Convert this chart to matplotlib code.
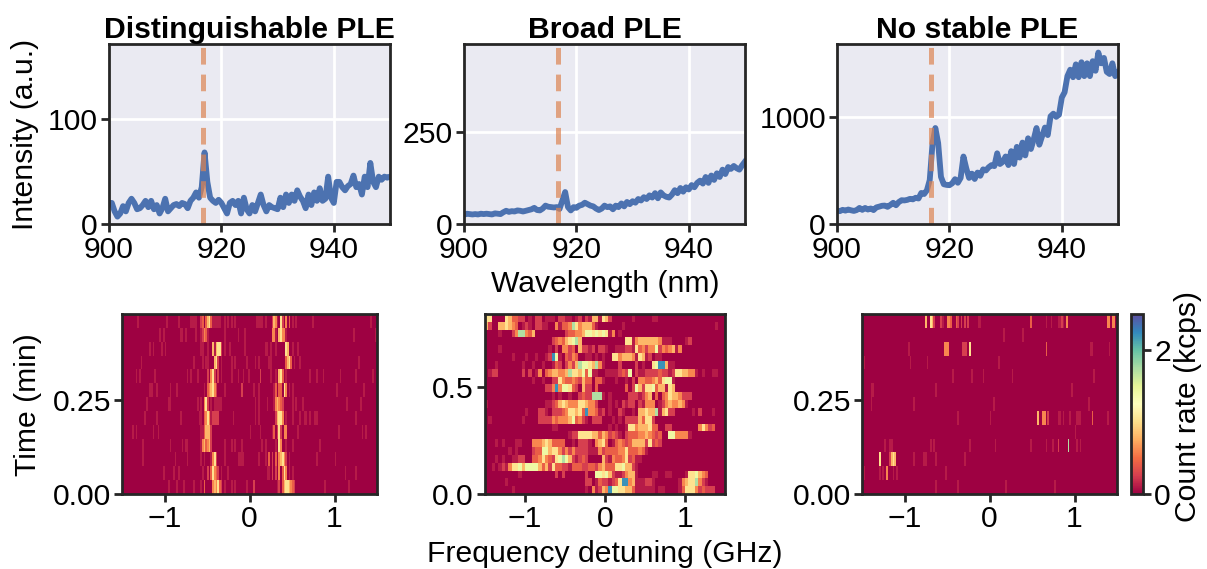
"""
Photoluminescence spectra and PLE scans for three emitter classes.
"""

import matplotlib

matplotlib.use("Agg")
import matplotlib.pyplot as plt
import numpy as np

FIG_W, FIG_H = 1207, 569

plt.rcParams["font.family"] = ["Liberation Sans", "DejaVu Sans"]
plt.rcParams["font.size"] = 21.7
plt.rcParams["axes.linewidth"] = 2
plt.rcParams["axes.edgecolor"] = "#262626"
plt.rcParams["xtick.color"] = "#262626"
plt.rcParams["ytick.color"] = "#262626"
plt.rcParams["xtick.labelcolor"] = "black"
plt.rcParams["ytick.labelcolor"] = "black"

TITLES = ["Distinguishable PLE", "Broad PLE", "No stable PLE"]

# spectra, one value every 0.5 nm from 900 to 950 nm
SPECTRUM_A = [
    20, 20, 12, 7, 10, 17, 12, 20, 24, 20, 14, 15, 18, 22, 16, 22, 14, 18, 10, 15,
    24, 12, 15, 18, 19, 17, 20, 19, 15, 22, 25, 30, 25, 35, 68, 40, 25, 22, 20, 23,
    20, 15, 10, 20, 22, 18, 22, 10, 25, 14, 10, 18, 12, 20, 28, 18, 12, 18, 16, 15,
    14, 25, 16, 28, 20, 28, 22, 32, 26, 22, 15, 28, 18, 30, 22, 34, 22, 24, 45, 25,
    20, 40, 40, 35, 32, 36, 38, 46, 35, 38, 28, 45, 35, 58, 40, 35, 45, 42, 45, 44, 45,
]
SPECTRUM_B = [
    25, 28, 27, 26, 27, 26, 28, 27, 28, 27, 26, 29, 28, 27, 32, 36, 33, 35, 34, 37,
    36, 34, 36, 38, 40, 44, 38, 37, 42, 50, 47, 46, 45, 46, 41, 64, 87, 46, 37, 46,
    44, 50, 52, 58, 54, 50, 48, 42, 38, 42, 50, 46, 48, 40, 50, 46, 56, 48, 60, 54,
    62, 58, 68, 64, 73, 68, 78, 72, 84, 70, 86, 78, 74, 72, 80, 92, 84, 98, 88, 100,
    94, 106, 100, 112, 118, 110, 128, 112, 132, 120, 138, 128, 148, 136, 155, 150,
    158, 152, 148, 160, 170,
]
SPECTRUM_C = [
    125, 120, 132, 125, 135, 128, 122, 130, 150, 132,
    150, 135, 145, 130, 155, 162, 170, 172, 160, 178,
    198, 175, 205, 222, 220, 225, 235, 230, 245, 238,
    290, 280, 315, 410, 755, 896, 755, 440, 371, 365,
    362, 380, 418, 385, 430, 630, 520, 430, 470, 420,
    480, 450, 510, 500, 530, 550, 540, 660, 560, 580,
    630, 550, 680, 560, 720, 620, 760, 640, 800, 700,
    790, 896, 740, 820, 900, 830, 1005, 1030, 1000, 1020,
    1180, 1230, 1380, 1440, 1370, 1490, 1370, 1510, 1380, 1500,
    1380, 1520, 1430, 1600, 1500, 1550, 1420, 1400, 1500, 1380, 1415,
]
SPECTRA = [SPECTRUM_A, SPECTRUM_B, SPECTRUM_C]
WAVELENGTH = np.linspace(900, 950, 101)
MARKER_NM = 916.8
SPECTRUM_YLIMS = [171, 490, 1680]
SPECTRUM_YTICKS = [[0, 100], [0, 250], [0, 1000]]

# count rate levels used by the scan rows below (kcps)
LEVELS = [0, 0.11, 0.26, 0.42, 0.6, 0.8, 1.02, 1.42, 1.72, 2.2]

# scans, top row first: (first bin, one level digit per bin)
SCAN_A = [
    [(9, "1"), (26, "1"), (33, "1"), (40, "1111"), (46, "2"), (47, "3"), (49, "3"), (50, "56"), (52, "3"), (53, "11111"), (60, "1"), (62, "1"), (64, "1"), (66, "1"), (79, "1111"), (84, "1"), (88, "2"), (89, "5"), (90, "41"), (93, "6"), (94, "2"), (96, "4"), (98, "3"), (100, "1"), (102, "1"), (112, "1"), (146, "1")],
    [(22, "1"), (24, "1"), (34, "11"), (37, "1"), (43, "1"), (46, "12"), (48, "43"), (50, "1"), (60, "1"), (68, "1"), (72, "1"), (88, "44"), (90, "1"), (92, "56"), (94, "44"), (96, "1"), (136, "1"), (149, "1")],
    [(16, "1"), (18, "1"), (23, "1"), (25, "1"), (46, "11"), (50, "1"), (53, "5"), (54, "1"), (55, "566"), (58, "2"), (60, "1"), (63, "1"), (72, "1"), (84, "11"), (87, "1"), (90, "1"), (96, "6"), (97, "5"), (100, "1"), (103, "1")],
    [(11, "1"), (42, "1"), (47, "1"), (49, "11"), (54, "5"), (55, "6"), (56, "2"), (58, "1"), (64, "1"), (66, "1"), (73, "1"), (78, "1"), (80, "1"), (86, "11"), (96, "3"), (97, "5"), (98, "6"), (99, "3"), (101, "1"), (104, "1"), (139, "1")],
    [(8, "1"), (10, "1"), (19, "1"), (38, "1"), (40, "1"), (44, "1"), (50, "2"), (52, "4"), (53, "6"), (54, "2"), (56, "2"), (58, "1"), (64, "1"), (68, "1"), (71, "1"), (74, "1"), (81, "2"), (87, "1"), (90, "1"), (92, "56"), (94, "3"), (96, "1"), (110, "1"), (114, "1"), (118, "1"), (128, "1"), (137, "1"), (147, "1")],
    [(16, "11"), (20, "1"), (28, "1"), (32, "1"), (48, "1"), (50, "34"), (52, "5"), (53, "6"), (54, "4"), (55, "2"), (60, "1"), (70, "2"), (77, "1"), (80, "1"), (89, "1"), (90, "3"), (92, "33"), (95, "6"), (96, "4"), (98, "1"), (100, "1"), (126, "1"), (142, "1")],
    [(14, "1"), (27, "11"), (44, "1"), (46, "1"), (48, "4"), (49, "6"), (50, "2"), (52, "1"), (54, "11111"), (78, "1"), (80, "1"), (85, "1"), (89, "1"), (90, "45"), (92, "4"), (93, "3"), (94, "2"), (100, "1"), (102, "1"), (106, "1"), (132, "1"), (140, "1")],
    [(13, "1"), (20, "1"), (34, "1"), (45, "11"), (48, "3"), (49, "4"), (50, "6"), (51, "4"), (52, "1"), (53, "2222"), (65, "1"), (78, "1"), (80, "1"), (90, "2"), (91, "5"), (92, "66"), (94, "4"), (96, "1"), (100, "1"), (104, "1"), (107, "11"), (110, "1"), (113, "11"), (137, "1")],
    [(6, "1"), (8, "1"), (18, "1"), (21, "1"), (46, "1"), (47, "1"), (48, "3"), (49, "55"), (51, "5"), (52, "2"), (75, "1"), (81, "1"), (88, "1"), (89, "3"), (91, "2"), (92, "6"), (93, "2"), (95, "4"), (96, "4"), (103, "1"), (127, "1"), (141, "1"), (143, "1")],
    [(12, "1"), (28, "1"), (35, "1"), (37, "11"), (46, "1"), (47, "4"), (48, "5"), (49, "3"), (50, "4"), (51, "5"), (52, "2"), (60, "1"), (64, "1"), (66, "1"), (70, "1"), (82, "1"), (84, "1"), (90, "1"), (92, "6"), (93, "4"), (96, "1"), (100, "1"), (116, "1")],
    [(12, "1"), (31, "1"), (38, "1"), (46, "1"), (48, "1"), (52, "1"), (53, "4"), (54, "6"), (55, "2"), (60, "1"), (68, "1111"), (80, "1"), (84, "1"), (86, "3"), (88, "2"), (90, "3"), (92, "4"), (93, "5"), (94, "6"), (95, "4"), (96, "2"), (98, "1"), (114, "1"), (125, "1")],
    [(24, "1"), (30, "1"), (33, "1"), (47, "1"), (50, "2"), (52, "3"), (53, "6"), (54, "4"), (55, "3"), (56, "2"), (58, "1"), (62, "1"), (85, "11"), (88, "2"), (90, "2"), (92, "4"), (94, "3"), (95, "6"), (96, "4"), (98, "1"), (100, "1"), (131, "1"), (137, "1")],
    [(27, "1"), (32, "1"), (36, "1"), (42, "1"), (46, "1"), (48, "3"), (53, "4"), (54, "5"), (55, "4"), (56, "6"), (57, "3"), (58, "2"), (60, "1"), (64, "1"), (66, "1"), (73, "1"), (77, "2"), (91, "1"), (92, "2"), (94, "3"), (95, "5"), (96, "66"), (98, "5"), (99, "4"), (100, "3"), (101, "2"), (119, "1"), (133, "1")],
]
SCAN_B = [
    [(0, "66"), (6, "65332"), (11, "2"), (13, "1"), (15, "22"), (18, "111"), (22, "2211"), (27, "12"), (30, "21"), (32, "55"), (34, "1"), (35, "652"), (44, "1"), (50, "11")],
    [(0, "52"), (4, "556543"), (11, "121"), (15, "2211"), (21, "4133486"), (28, "4555"), (32, "31"), (41, "1"), (69, "1")],
    [(4, "1"), (8, "24"), (10, "88"), (12, "435"), (24, "2"), (25, "33"), (27, "445"), (30, "776"), (33, "7676"), (37, "1"), (38, "4"), (40, "1")],
    [(20, "23"), (22, "4356"), (26, "78"), (28, "5"), (42, "66"), (44, "1"), (45, "4555555"), (52, "4111"), (60, "12")],
    [(4, "1"), (19, "1"), (21, "2"), (23, "4423"), (28, "5221"), (32, "2"), (34, "221"), (39, "111"), (42, "221"), (45, "634"), (48, "2447"), (52, "243451"), (58, "4")],
    [(8, "1"), (12, "1"), (15, "1"), (18, "129"), (21, "71"), (24, "3243"), (30, "11"), (33, "1"), (35, "1"), (38, "664555"), (44, "41"), (46, "651"), (49, "2"), (51, "11")],
    [(3, "1"), (11, "1"), (14, "1"), (17, "1"), (20, "132"), (24, "24258"), (29, "77"), (31, "65"), (33, "841"), (40, "2"), (45, "2"), (47, "1"), (50, "6799"), (54, "511")],
    [(1, "122"), (11, "2"), (13, "2"), (15, "14"), (18, "34"), (20, "554"), (23, "45"), (25, "8665"), (29, "7371"), (33, "1"), (36, "1111"), (40, "2327"), (45, "2"), (46, "11"), (48, "22223"), (53, "22121"), (57, "665544"), (63, "1"), (65, "1"), (68, "11")],
    [(14, "1"), (17, "1"), (20, "22"), (22, "6433"), (26, "432"), (29, "533"), (33, "331"), (39, "1"), (42, "1"), (44, "2"), (46, "44"), (48, "33"), (50, "4536"), (54, "771")],
    [(18, "22"), (20, "49"), (22, "4776"), (26, "32"), (29, "522"), (33, "3"), (42, "3"), (44, "27"), (46, "52"), (48, "6673"), (52, "551"), (55, "65")],
    [(20, "1"), (22, "1"), (25, "1"), (28, "2322"), (32, "888"), (35, "1"), (37, "1"), (43, "2221"), (47, "245"), (51, "3"), (53, "346"), (56, "55422"), (61, "2")],
    [(0, "1"), (18, "11"), (20, "2"), (21, "3565"), (25, "4446"), (29, "654"), (32, "42"), (37, "1"), (39, "1"), (41, "212"), (44, "2"), (46, "21444"), (52, "1245"), (56, "44541")],
    [(12, "1"), (16, "221"), (20, "2223"), (24, "4665"), (28, "63944"), (33, "312"), (37, "1"), (40, "21"), (44, "1"), (46, "5565"), (50, "58"), (52, "1562"), (56, "2"), (62, "1"), (64, "2"), (68, "1")],
    [(1, "1"), (11, "1"), (16, "2222"), (20, "43444"), (25, "573421"), (32, "222"), (38, "1"), (40, "1"), (42, "2222"), (46, "53662")],
    [(20, "11"), (37, "1"), (39, "1"), (42, "166455563"), (51, "3"), (54, "22"), (64, "46423")],
    [(25, "122"), (28, "666655"), (34, "3542"), (38, "321"), (42, "2"), (43, "3334"), (47, "4543"), (51, "23"), (55, "774444"), (61, "1")],
    [(3, "1"), (5, "1"), (9, "11"), (14, "4445653333"), (26, "1"), (28, "2221"), (33, "4563"), (38, "134323"), (44, "5555"), (48, "2623"), (52, "2")],
    [(7, "1"), (9, "1"), (14, "23377"), (19, "566"), (22, "4242"), (26, "4222211"), (33, "1"), (34, "423333"), (40, "44633"), (45, "3431")],
    [(3, "1"), (5, "1"), (8, "1122"), (14, "334"), (17, "6432"), (21, "67875"), (26, "21232"), (35, "5214"), (39, "3346"), (43, "2311")],
    [(2, "1"), (4, "121"), (7, "466757"), (13, "7775"), (17, "3526"), (21, "33221"), (26, "33322"), (31, "332"), (34, "45333"), (39, "66755"), (44, "21")],
    [(10, "1"), (21, "2"), (23, "2"), (30, "2"), (33, "77675211"), (41, "2455"), (45, "1"), (50, "11"), (54, "11"), (60, "1"), (61, "667543")],
    [(6, "1"), (30, "22"), (33, "1322"), (37, "123"), (40, "69945111"), (48, "221"), (58, "14566"), (63, "8421")],
    [(8, "1"), (30, "1"), (32, "412"), (35, "549776"), (41, "6553"), (45, "111111"), (52, "11"), (58, "1"), (59, "3666"), (63, "423222")],
]
SCAN_C = [
    [(37, "5"), (40, "652"), (46, "2"), (47, "1"), (50, "443"), (55, "32"), (58, "2"), (60, "2"), (62, "2"), (68, "11"), (99, "3"), (108, "1"), (111, "1"), (115, "1121"), (120, "4"), (144, "44"), (147, "44")],
    [(83, "1"), (94, "1")],
    [(27, "1"), (48, "444"), (59, "222"), (63, "6"), (108, "3"), (134, "11"), (145, "1")],
    [(1, "1"), (28, "1"), (38, "1"), (80, "1")],
    [(53, "1"), (64, "1"), (71, "1"), (88, "1"), (136, "1")],
    [(5, "11"), (43, "1"), (123, "1")],
    [(5, "1"), (30, "1"), (77, "1"), (133, "1")],
    [(56, "1"), (75, "1"), (103, "5"), (106, "44"), (109, "2"), (115, "11"), (118, "1"), (122, "1"), (126, "111"), (135, "3"), (144, "1")],
    [(125, "1")],
    [(13, "1"), (16, "11"), (40, "1"), (42, "1"), (63, "1"), (78, "1"), (99, "1"), (108, "1"), (112, "1"), (115, "2"), (121, "8"), (126, "1"), (128, "1")],
    [(10, "6"), (16, "2565"), (30, "1"), (36, "11"), (43, "1"), (60, "1")],
    [(1, "1"), (10, "1"), (12, "1"), (14, "4"), (18, "1"), (20, "1"), (49, "1")],
    [(43, "1"), (56, "1"), (84, "1"), (113, "1")],
]
SCANS = [SCAN_A, SCAN_B, SCAN_C]
SCAN_BINS = [150, 72, 150]
SCAN_TMAX = [0.479, 0.84, 0.479]
SCAN_YTICKS = [[0, 0.25], [0, 0.5], [0, 0.25]]
SCAN_YLABELS = [["0.00", "0.25"], ["0.0", "0.5"], ["0.00", "0.25"]]
DETUNING_TICKS = [-1, 0, 1]
DETUNING_LABELS = ["\u22121", "0", "1"]
CBAR_MAX = 2.5


def axes_at(fig, left, top, right, bottom):
    """Add axes from pixel edges measured from the top left."""
    return fig.add_axes([left / FIG_W, 1 - bottom / FIG_H, (right - left) / FIG_W, (bottom - top) / FIG_H])


def scan_to_array(rows, n_bins):
    """Expand the run lists to a 2D array, bottom row first."""
    counts = np.zeros((len(rows), n_bins))
    for i, row in enumerate(rows[::-1]):
        for start, digits in row:
            for j, digit in enumerate(digits):
                counts[i, start + j] = LEVELS[int(digit)]
    return counts


fig = plt.figure(figsize=(FIG_W / 100, FIG_H / 100), dpi=100)

top_edges = [(109, 390), (464, 745), (837, 1118)]
for k, (left, right) in enumerate(top_edges):
    ax = axes_at(fig, left, 44, right, 224)
    ax.set_facecolor("#EAEAF2")
    ax.grid(True, color="white", lw=2)
    ax.set_axisbelow(True)
    ax.plot(WAVELENGTH, SPECTRA[k], color="#4C72B0", lw=4.2, solid_joinstyle="round")
    ax.axvline(MARKER_NM, color="#DD8452", lw=3.6, ls=(0, (3.33, 2)), alpha=0.7)
    ax.set_xlim(900, 950)
    ax.set_ylim(0, SPECTRUM_YLIMS[k])
    ax.set_xticks([900, 920, 940])
    ax.set_yticks(SPECTRUM_YTICKS[k])
    ax.tick_params(direction="out", length=6, width=2, pad=2)
    ax.tick_params(axis="x", pad=3)
    ax.set_title(TITLES[k], fontweight="bold", fontsize=21.7, pad=2)

bottom_edges = [(122, 377), (485, 725), (862, 1117)]
for k, (left, right) in enumerate(bottom_edges):
    ax = axes_at(fig, left, 314, right, 494)
    counts = scan_to_array(SCANS[k], SCAN_BINS[k])
    freq = np.linspace(-1.5, 1.5, SCAN_BINS[k] + 1)
    time = np.linspace(0, SCAN_TMAX[k], len(SCANS[k]) + 1)
    mesh = ax.pcolormesh(freq, time, counts, cmap="Spectral", vmin=0, vmax=CBAR_MAX, rasterized=True)
    ax.set_xticks(DETUNING_TICKS, DETUNING_LABELS)
    ax.set_yticks(SCAN_YTICKS[k], SCAN_YLABELS[k])
    ax.tick_params(direction="out", length=6, width=2, pad=2)

cax = axes_at(fig, 1131, 314, 1143, 494)
cbar = fig.colorbar(mesh, cax=cax)
cbar.set_ticks([0, 2])
cbar.ax.tick_params(direction="out", length=6, width=2, pad=2)
cbar.outline.set_linewidth(2)

fig.text(605 / FIG_W, 1 - 284 / FIG_H, "Wavelength (nm)", ha="center", va="center")
fig.text(605 / FIG_W, 1 - 554 / FIG_H, "Frequency detuning (GHz)", ha="center", va="center")
fig.text(25 / FIG_W, 1 - 134 / FIG_H, "Intensity (a.u.)", rotation=90, ha="center", va="center")
fig.text(28 / FIG_W, 1 - 405 / FIG_H, "Time (min)", rotation=90, ha="center", va="center")
fig.text(1188 / FIG_W, 1 - 406 / FIG_H, "Count rate (kcps)", rotation=90, ha="center", va="center")

fig.savefig("out.png", dpi=100)
